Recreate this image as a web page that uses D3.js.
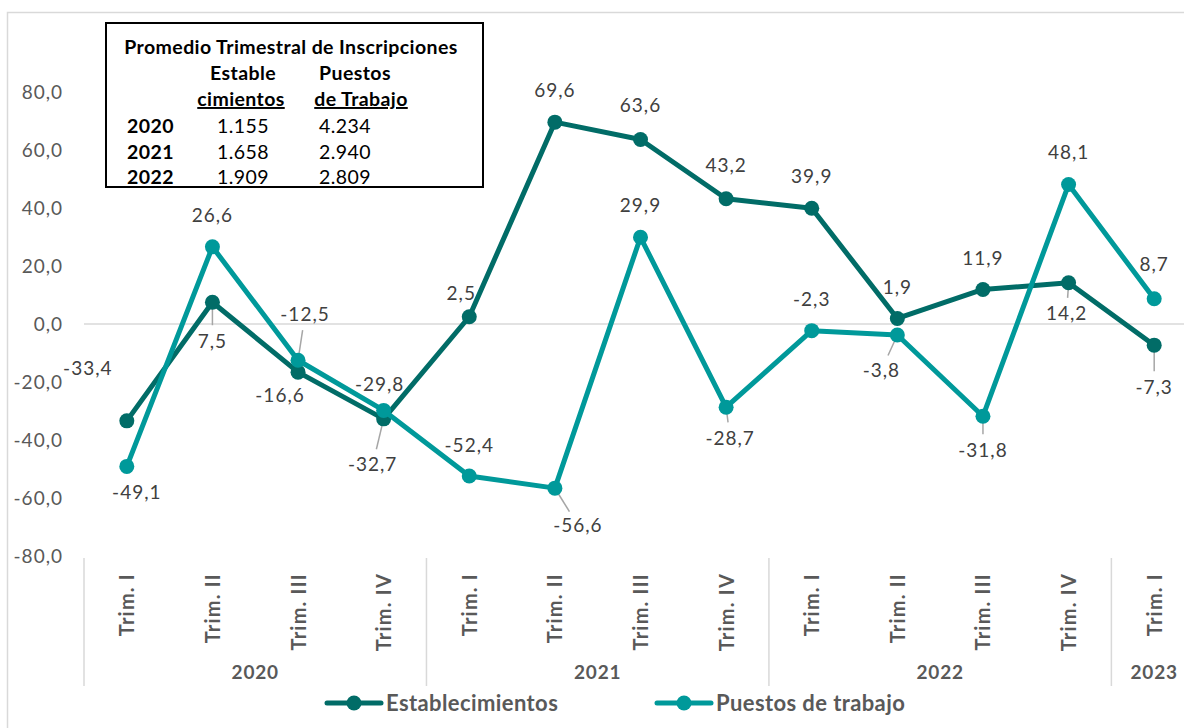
<!DOCTYPE html>
<html>
<head>
<meta charset="utf-8">
<script src="https://cdn.jsdelivr.net/npm/d3@7"></script>
<style>
  html, body { margin: 0; padding: 0; background: #fff; }
  svg { display: block; font-family: Lato, "Open Sans", sans-serif; }
</style>
</head>
<body>
<svg id="chart" width="1184" height="728"></svg>
<script>
// ---- data ----
const quarters = ["Trim. I","Trim. II","Trim. III","Trim. IV","Trim. I","Trim. II","Trim. III","Trim. IV","Trim. I","Trim. II","Trim. III","Trim. IV","Trim. I"];
const quarterYears = [2020,2020,2020,2020,2021,2021,2021,2021,2022,2022,2022,2022,2023];
const years = [2020, 2021, 2022, 2023];
const establecimientos = [-33.4, 7.5, -16.6, -32.7, 2.5, 69.6, 63.6, 43.2, 39.9, 1.9, 11.9, 14.2, -7.3];
const puestos = [-49.1, 26.6, -12.5, -29.8, -52.4, -56.6, 29.9, -28.7, -2.3, -3.8, -31.8, 48.1, 8.7];
const yTicks = [-80, -60, -40, -20, 0, 20, 40, 60, 80];
const seriesNames = ["Establecimientos", "Puestos de trabajo"];
// inset table
const tableTitle = "Promedio Trimestral de Inscripciones";
const tableYears = ["2020", "2021", "2022"];
const tableEstab = ["1.155", "1.658", "1.909"];
const tablePuestos = ["4.234", "2.940", "2.809"];

// ---- label placement (layout only) ----
const estOffsets = [[-39,-53],[0,39],[-18,23],[-11,46],[-8,-23],[0,-32],[0,-34],[0,-33],[0,-32],[0,-31],[0,-31],[-2,31],[0,42]];
const estLeader  = [0,1,0,1,0,0,0,0,0,0,0,1,1];
const puOffsets  = [[10,26],[0,-32],[7,-46],[-4,-26],[0,-31],[23,37],[0,-32],[4,31],[0,-31],[-16,35],[0,34],[0,-32],[0,-34]];
const puLeader   = [0,0,1,0,0,1,0,1,0,1,1,0,0];

const colEst = "#016C67";
const colPu = "#00999A";
const textCol = "#595959";
const labelCol = "#404040";

const svg = d3.select("#chart");
const fmt = v => d3.format(".1f")(v).replace(".", ",").replace("\u2212", "-");

const plotLeft = 84, plotRight = 1197, plotTop = 92, plotBottom = 556;
const idx = d3.range(quarters.length);
const x = d3.scalePoint().domain(idx).range([plotLeft, plotRight]).padding(0.5);
const band = x.step();
const y = d3.scaleLinear().domain([-80, 80]).range([plotBottom, plotTop]);

// chart border
svg.append("rect").attr("x", 7.5).attr("y", 12.5).attr("width", 1200).attr("height", 760)
  .attr("fill", "none").attr("stroke", "#D9D9D9").attr("stroke-width", 1.5);

// zero line
svg.append("line").attr("x1", plotLeft).attr("x2", plotRight).attr("y1", y(0)).attr("y2", y(0))
  .attr("stroke", "#D9D9D9").attr("stroke-width", 1.5);

// y axis labels
const yAxis = d3.axisLeft(y).tickValues(yTicks).tickSize(0).tickPadding(0).tickFormat(fmt);
const gy = svg.append("g").attr("transform", `translate(63,0)`).call(yAxis);
gy.select(".domain").remove();
gy.selectAll("text").attr("fill", textCol).style("font-size", "19px").style("font-family", "Lato").attr("dy", "0.35em")
  .attr("letter-spacing", "1px");

// category axis separators
const sepIdx = [0, 4, 8, 12];
sepIdx.forEach(i => {
  const sx = x(i) - band / 2;
  svg.append("line").attr("x1", sx).attr("x2", sx).attr("y1", plotBottom + 2).attr("y2", 686)
    .attr("stroke", "#D9D9D9").attr("stroke-width", 1.5);
});

// quarter labels
const xAxis = d3.axisBottom(x).tickSize(0).tickFormat(i => quarters[i]);
const gx = svg.append("g").attr("transform", `translate(0,${plotBottom})`).call(xAxis);
gx.select(".domain").remove();
gx.selectAll("text")
  .attr("transform", "rotate(-90)")
  .attr("x", -17).attr("y", 0).attr("dy", "0.35em")
  .attr("text-anchor", "end")
  .attr("letter-spacing", "1.2px")
  .attr("fill", textCol).style("font-size", "20px").style("font-weight", "bold").style("font-family", "Lato");

// year labels
years.forEach(yr => {
  const ids = idx.filter(i => quarterYears[i] === yr);
  const cx = (x(ids[0]) + x(ids[ids.length - 1])) / 2;
  svg.append("text").attr("x", cx).attr("y", 679).attr("text-anchor", "middle")
    .attr("letter-spacing", "0.8px")
    .attr("fill", textCol).style("font-size", "19px").style("font-weight", "bold").text(yr);
});

// lines and markers
function drawSeries(vals, color, offsets, leaders) {
  const line = d3.line().x((d, i) => x(i)).y(d => y(d));
  svg.append("path").datum(vals).attr("d", line).attr("fill", "none")
    .attr("stroke", color).attr("stroke-width", 5).attr("stroke-linejoin", "round");
  vals.forEach((v, i) => {
    if (!leaders[i]) return;
    const [dx, dy] = offsets[i];
    const px = x(i), py = y(v);
    const len = Math.hypot(dx, dy);
    const k0 = 6 / len, k1 = (len - 16) / len;
    svg.append("line").attr("x1", px + dx * k0).attr("y1", py + dy * k0)
      .attr("x2", px + dx * k1).attr("y2", py + dy * k1)
      .attr("stroke", "#A6A6A6").attr("stroke-width", 1.5);
  });
  svg.append("g").selectAll("circle").data(vals).join("circle")
    .attr("cx", (d, i) => x(i)).attr("cy", d => y(d)).attr("r", 7.5).attr("fill", color);
}
function drawLabels(vals, offsets) {
  svg.append("g").selectAll("text").data(vals).join("text")
    .attr("x", (d, i) => x(i) + offsets[i][0])
    .attr("y", (d, i) => y(d) + offsets[i][1])
    .attr("dy", "0.35em").attr("text-anchor", "middle")
    .attr("fill", labelCol).style("font-size", "19px").attr("letter-spacing", "1px")
    .text(fmt);
}
drawSeries(establecimientos, colEst, estOffsets, estLeader);
drawSeries(puestos, colPu, puOffsets, puLeader);
drawLabels(establecimientos, estOffsets);
drawLabels(puestos, puOffsets);

// legend
const legend = [[seriesNames[0], colEst, 327], [seriesNames[1], colPu, 657]];
legend.forEach(([name, color, lx]) => {
  const g = svg.append("g");
  g.append("line").attr("x1", lx).attr("x2", lx + 54).attr("y1", 703).attr("y2", 703)
    .attr("stroke", color).attr("stroke-width", 5).attr("stroke-linecap", "round");
  g.append("circle").attr("cx", lx + 27).attr("cy", 703).attr("r", 7.5).attr("fill", color);
  g.append("text").attr("x", lx + 59).attr("y", 703).attr("dy", "0.35em")
    .attr("letter-spacing", "0.4px")
    .attr("fill", textCol).style("font-size", "22px").style("font-weight", "bold").text(name);
});

// inset table
const tb = svg.append("g");
tb.append("rect").attr("x", 106).attr("y", 23).attr("width", 377).attr("height", 164)
  .attr("fill", "#fff").attr("stroke", "#000").attr("stroke-width", 2);
const tStyle = s => s.attr("fill", "#000").style("font-size", "19.5px").attr("letter-spacing", "0.4px");
tStyle(tb.append("text").attr("x", 291).attr("y", 54).attr("text-anchor", "middle").style("font-weight", "bold").text(tableTitle));
tStyle(tb.append("text").attr("x", 243).attr("y", 80).attr("text-anchor", "middle").style("font-weight", "bold").text("Estable"));
tStyle(tb.append("text").attr("x", 355).attr("y", 80).attr("text-anchor", "middle").style("font-weight", "bold").text("Puestos"));
tStyle(tb.append("text").attr("x", 241).attr("y", 106).attr("text-anchor", "middle").style("font-weight", "bold").style("text-decoration", "underline").text("cimientos"));
tStyle(tb.append("text").attr("x", 361).attr("y", 106).attr("text-anchor", "middle").style("font-weight", "bold").style("text-decoration", "underline").text("de Trabajo"));
tableYears.forEach((yr, i) => {
  const ty = 133 + i * 25.5;
  tStyle(tb.append("text").attr("x", 127).attr("y", ty).style("font-weight", "bold").text(yr));
  tStyle(tb.append("text").attr("x", 243).attr("y", ty).attr("text-anchor", "middle").text(tableEstab[i]));
  tStyle(tb.append("text").attr("x", 345).attr("y", ty).attr("text-anchor", "middle").text(tablePuestos[i]));
});
</script>
</body>
</html>
